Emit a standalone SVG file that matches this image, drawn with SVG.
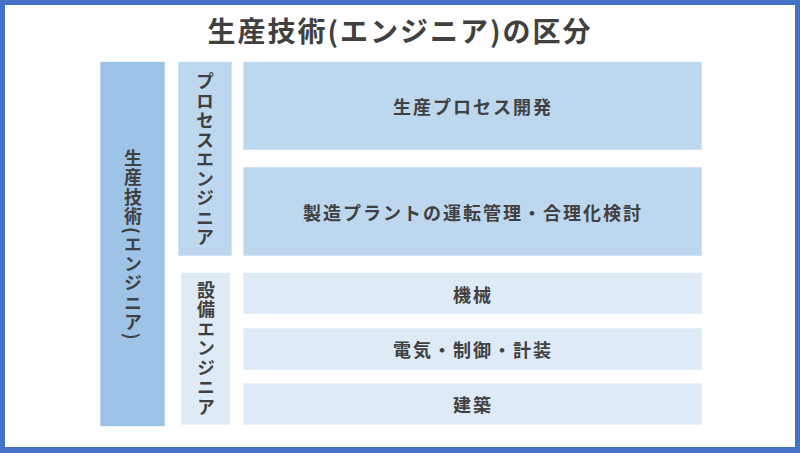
<svg xmlns="http://www.w3.org/2000/svg" width="800" height="453" viewBox="0 0 800 453">
<style>
.t{font-family:"Noto Sans CJK JP","Noto Sans",sans-serif;font-weight:bold;fill:#404040;}
.h{font-size:18px;letter-spacing:2px;text-anchor:middle;dominant-baseline:central;}
.v{font-size:18px;letter-spacing:1.5px;text-anchor:middle;writing-mode:vertical-rl;}
.b{stroke:#ffffff;stroke-opacity:0.6;stroke-width:1;}
</style>
<rect x="0" y="0" width="800" height="453" fill="#4472C4"/>
<rect x="5" y="5" width="790" height="442" fill="#ffffff"/>
<g id="title"><text class="t" x="400" y="30" font-size="28" letter-spacing="2" text-anchor="middle" dominant-baseline="central">生産技術(エンジニア)の区分</text></g>
<g id="production">
<rect class="b" x="100" y="61.5" width="65" height="365" fill="#9DC3E6"/>
<text class="t v" x="133" y="245">生産技術(エンジニア)</text>
</g>
<g id="process">
<rect class="b" x="178" y="61.5" width="54" height="194.5" fill="#BDD7EE"/>
<text class="t v" x="205" y="160">プロセスエンジニア</text>
</g>
<g id="facility">
<rect class="b" x="181" y="272.5" width="49" height="152.5" fill="#DEEBF7"/>
<text class="t v" x="206" y="349">設備エンジニア</text>
</g>
<g id="box1">
<rect class="b" x="243" y="61.5" width="459" height="88.5" fill="#BDD7EE"/>
<text class="t h" x="473" y="106">生産プロセス開発</text>
</g>
<g id="box2">
<rect class="b" x="243" y="167" width="459" height="89" fill="#BDD7EE"/>
<text class="t h" x="473" y="211.5">製造プラントの運転管理・合理化検討</text>
</g>
<g id="box3">
<rect class="b" x="243" y="272.5" width="459" height="41.5" fill="#DEEBF7"/>
<text class="t h" x="473" y="293.5">機械</text>
</g>
<g id="box4">
<rect class="b" x="243" y="328" width="459" height="42" fill="#DEEBF7"/>
<text class="t h" x="473" y="349">電気・制御・計装</text>
</g>
<g id="box5">
<rect class="b" x="243" y="383" width="459" height="42" fill="#DEEBF7"/>
<text class="t h" x="473" y="404">建築</text>
</g>
<g id="connectors"></g>
</svg>
